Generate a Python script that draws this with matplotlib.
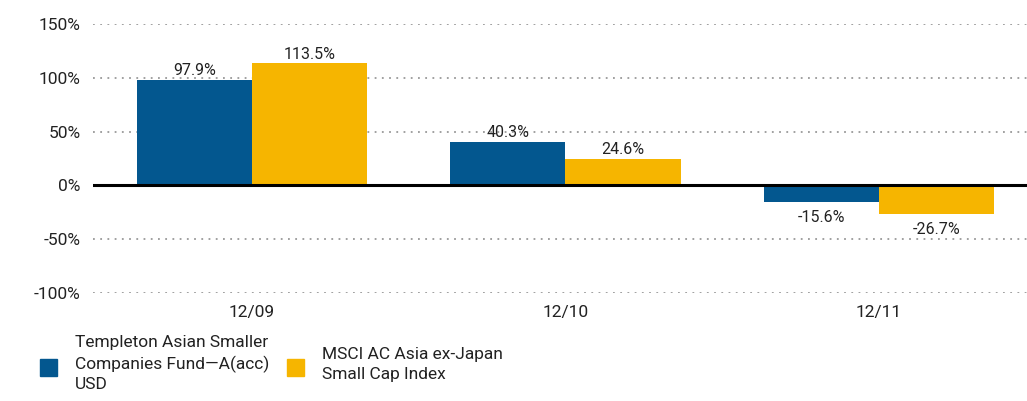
import matplotlib
matplotlib.use("Agg")
import matplotlib.pyplot as plt
from matplotlib.patches import Rectangle
import numpy as np

categories = ["12/09", "12/10", "12/11"]
fund = [97.9, 40.3, -15.6]
index = [113.5, 24.6, -26.7]
fund_labels = ["97.9%", "40.3%", "-15.6%"]
index_labels = ["113.5%", "24.6%", "-26.7%"]
yticks = [-100, -50, 0, 50, 100, 150]
ytick_labels = ["-100%", "-50%", "0%", "50%", "100%", "150%"]
series_names = ["Templeton Asian Smaller\nCompanies Fund\u2014A(acc)\nUSD",
                "MSCI AC Asia ex-Japan\nSmall Cap Index"]

BLUE = "#03578F"
YELLOW = "#F6B500"
TXT = "#222222"
plt.rcParams['font.family'] = ["Roboto", "DejaVu Sans"]

fig = plt.figure(figsize=(10.27, 4.01), dpi=100)
ax = fig.add_axes([93/1027, 1 - 293/401, 934/1027, (293-24)/401])

x = np.arange(len(categories))
w = 0.368
ax.bar(x - w/2, fund, w, color=BLUE, zorder=2)
ax.bar(x + w/2, index, w, color=YELLOW, zorder=2)

def label(xs, vals, labs):
    for xi, v, lab in zip(xs, vals, labs):
        if v >= 0:
            ax.text(xi, v + 1.5, lab, ha="center", va="bottom", fontsize=11.5, color=TXT)
        else:
            ax.text(xi, v - 7, lab, ha="center", va="top", fontsize=11.5, color=TXT)

label(x - w/2, fund, fund_labels)
label(x + w/2, index, index_labels)

ax.set_ylim(-100, 150)
ax.set_xlim(-0.507, 2.472)
ax.set_yticks(yticks)
ax.set_yticklabels(ytick_labels, fontsize=12.5, color=TXT)
ax.set_xticks(x)
ax.set_xticklabels(categories, fontsize=12.5, color=TXT)
ax.tick_params(length=0)
ax.tick_params(axis="x", pad=9)
ax.tick_params(axis="y", pad=9)
for s in ax.spines.values():
    s.set_visible(False)
for yv in yticks:
    if yv != 0:
        ax.axhline(yv, color="#999999", lw=1.3, ls=(0, (1, 3)), zorder=1)
ax.axhline(0, color="black", lw=2.2, zorder=3)

# legend
fig.patches.append(Rectangle((40/1027, 1 - 376/401), 17/1027, 17/401, transform=fig.transFigure,
                             color=BLUE, figure=fig))
fig.patches.append(Rectangle((287/1027, 1 - 376/401), 17/1027, 17/401, transform=fig.transFigure,
                             color=YELLOW, figure=fig))
fig.text(75/1027, 1 - 335/401, series_names[0], ha="left", va="top", fontsize=12.5,
         color=TXT, linespacing=1.4)
fig.text(322/1027, 1 - 347/401, series_names[1], ha="left", va="top", fontsize=12.5,
         color=TXT, linespacing=1.4)

fig.savefig("out.png", dpi=100)
